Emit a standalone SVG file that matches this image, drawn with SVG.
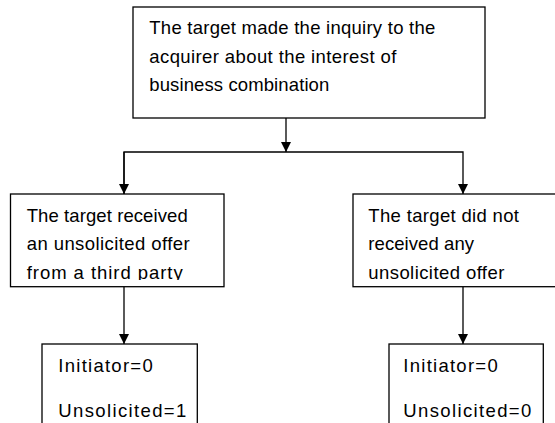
<svg xmlns="http://www.w3.org/2000/svg" width="555" height="423" viewBox="0 0 555 423">
  <style>
    .box { fill: #fff; stroke: #000; stroke-width: 1.3; }
    .lbl { font-family: "Liberation Sans", Arial, sans-serif; font-size: 18.5px; fill: #000; }
    .conn { fill: none; stroke: #000; stroke-width: 1.3; }
  </style>
  <defs>
    <marker id="arr" viewBox="0 0 10 10" refX="10" refY="5" markerWidth="10" markerHeight="10" markerUnits="userSpaceOnUse" orient="auto">
      <path d="M0,0 L10,5 L0,10 Z" fill="#000"/>
    </marker>
    <clipPath id="clipL"><rect x="0" y="190" width="555" height="90"/></clipPath>
  </defs>
  <rect width="555" height="423" fill="#fff"/>

  <g id="connectors">
    <path class="conn" d="M286,118 V152" marker-end="url(#arr)"/>
    <path class="conn" d="M124,194 V152 H463 V194" marker-end="url(#arr)"/>
    <path class="conn" d="M124,152 V194" marker-end="url(#arr)"/>
    <path class="conn" d="M124,287 V344" marker-end="url(#arr)"/>
    <path class="conn" d="M463,287 V344" marker-end="url(#arr)"/>
  </g>

  <g id="node-top">
    <rect class="box" x="133" y="7" width="352" height="111"/>
    <text class="lbl" x="149.3" y="34" textLength="286">The target made the inquiry to the</text>
    <text class="lbl" x="149.3" y="62.5" textLength="247">acquirer about the interest of</text>
    <text class="lbl" x="149.3" y="91" textLength="180">business combination</text>
  </g>

  <g id="node-left">
    <rect class="box" x="10.5" y="194" width="213.5" height="92.7"/>
    <g clip-path="url(#clipL)">
      <text class="lbl" x="26.7" y="221.7" textLength="161">The target received</text>
      <text class="lbl" x="26.7" y="250" textLength="163">an unsolicited offer</text>
      <text class="lbl" x="26.7" y="278.5" textLength="156">from a third party</text>
    </g>
  </g>

  <g id="node-right">
    <rect class="box" x="353" y="194" width="210" height="92.7"/>
    <g clip-path="url(#clipL)">
      <text class="lbl" x="368.3" y="221.7" textLength="150.7">The target did not</text>
      <text class="lbl" x="368.3" y="250" textLength="105.7">received any</text>
      <text class="lbl" x="368.3" y="278.5" textLength="136">unsolicited offer</text>
    </g>
  </g>

  <g id="node-bottom-left">
    <rect class="box" x="42" y="344" width="155.3" height="100"/>
    <text class="lbl" x="58.3" y="371.7" textLength="94.4">Initiator=0</text>
    <text class="lbl" x="58.3" y="416.7" textLength="128">Unsolicited=1</text>
  </g>

  <g id="node-bottom-right">
    <rect class="box" x="389" y="344" width="154.3" height="100"/>
    <text class="lbl" x="403.3" y="371.7" textLength="94.4">Initiator=0</text>
    <text class="lbl" x="403.3" y="416.7" textLength="128">Unsolicited=0</text>
  </g>
</svg>
